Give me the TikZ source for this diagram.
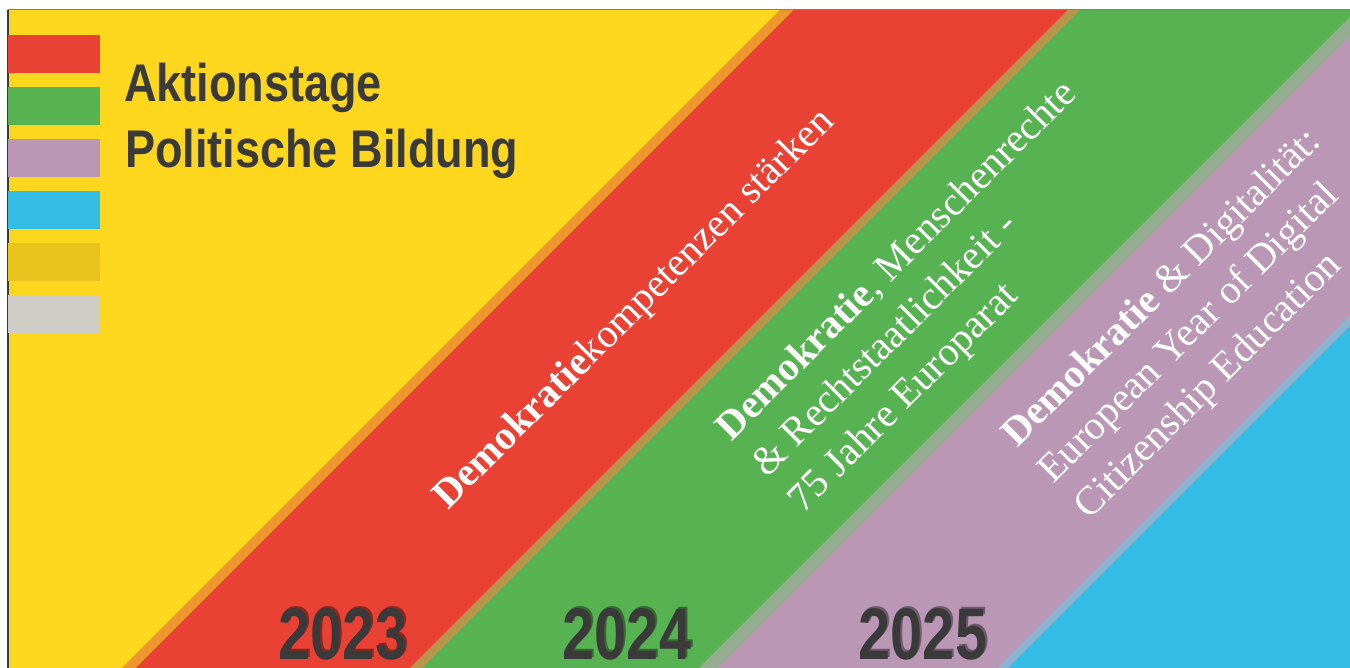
\documentclass[tikz,border=0pt]{standalone}
\usepackage{fontspec}
\setmainfont{Liberation Serif}
\newfontfamily\headfont[FakeStretch=0.85]{Liberation Sans}
\newfontfamily\yearfont[FakeStretch=0.79]{Liberation Sans}
\usetikzlibrary{positioning}
\definecolor{sun}{HTML}{FCD71E}
\definecolor{tomato}{HTML}{E94235}
\definecolor{leaf}{HTML}{57B351}
\definecolor{lilac}{HTML}{BA97B4}
\definecolor{sky}{HTML}{33BDE4}
\definecolor{orangeline}{HTML}{F0962F}
\definecolor{tanline}{HTML}{B9954A}
\definecolor{sageline}{HTML}{95AD91}
\definecolor{steelline}{HTML}{8DB3D2}
\definecolor{ochre}{HTML}{E9C41C}
\definecolor{stone}{HTML}{CECEC6}
\definecolor{ink}{HTML}{3A3A3A}
\tikzset{
  legbox/.style={minimum width=92pt, minimum height=38pt, inner sep=0pt, outer sep=0pt},
  head/.style={text=ink, font=\headfont\bfseries\fontsize{53}{60}\selectfont, inner sep=0pt, anchor=base west},
  motto/.style={text=white, rotate=45, align=left, inner sep=0pt, font=\fontsize{40.5}{51}\selectfont},
  year/.style={text=ink, font=\yearfont\bfseries\fontsize{73}{80}\selectfont, inner sep=0pt, anchor=base},
  yearshade/.style={year, text=black, text opacity=0.4},
}
\begin{document}
\begin{tikzpicture}[x=1pt, y=1pt]
\useasboundingbox (0,0) rectangle (1350,668);
\fill[white] (0,0) rectangle (1350,668);
% diagonal year bands
\begin{scope}
\clip (8,0) rectangle (1350,658);
\fill[sun] (8,0) rectangle (1350,658);
\fill[orangeline] (122,0) -- (822,700) -- (2100,700) -- (2100,0) -- cycle;
\fill[tomato] (136,0) -- (836,700) -- (2100,700) -- (2100,0) -- cycle;
\fill[tanline] (410,0) -- (1110,700) -- (2100,700) -- (2100,0) -- cycle;
\fill[leaf] (422,0) -- (1122,700) -- (2100,700) -- (2100,0) -- cycle;
\fill[sageline] (699,0) -- (1399,700) -- (2100,700) -- (2100,0) -- cycle;
\fill[lilac] (717,0) -- (1417,700) -- (2100,700) -- (2100,0) -- cycle;
\fill[steelline] (997,0) -- (1697,700) -- (2100,700) -- (2100,0) -- cycle;
\fill[sky] (1008,0) -- (1708,700) -- (2100,700) -- (2100,0) -- cycle;
\end{scope}
\draw[gray, line width=1pt] (8,658) -- (1350,658);
\draw[ink, line width=1.2pt] (8,0) -- (8,658);

% legend
\node[legbox, fill=tomato, anchor=north west] (k1) at (8,633) {};
\node[legbox, fill=leaf, below=14pt of k1] (k2) {};
\node[legbox, fill=lilac, below=14pt of k2] (k3) {};
\node[legbox, fill=sky, below=14pt of k3] (k4) {};
\node[legbox, fill=ochre, below=14pt of k4] (k5) {};
\node[legbox, fill=stone, below=14pt of k5] (k6) {};
\node[head] (title1) at (124,566) {Aktionstage};
\node[head] (title2) at (125,500) {Politische Bildung};

% mottos
\node[motto] (m23) at (635,358) {\textbf{Demokratie}kompetenzen stärken};
\node[motto] (m24) at (934,370) {\textbf{Demokratie}, Menschenrechte\\ \& Rechtstaatlichkeit -\\ 75 Jahre Europarat};
\node[motto] (m25) at (1199,343) {\textbf{Demokratie} \& Digitalität:\\ European Year of Digital\\ Citizenship Education};

% years
\node[yearshade] (s23) at (345,10) {2023};
\node[year] (y23) at (343,8) {2023};
\node[yearshade] (s24) at (629,10) {2024};
\node[year] (y24) at (627,8) {2024};
\node[yearshade] (s25) at (925,10) {2025};
\node[year] (y25) at (923,8) {2025};
\end{tikzpicture}
\end{document}
